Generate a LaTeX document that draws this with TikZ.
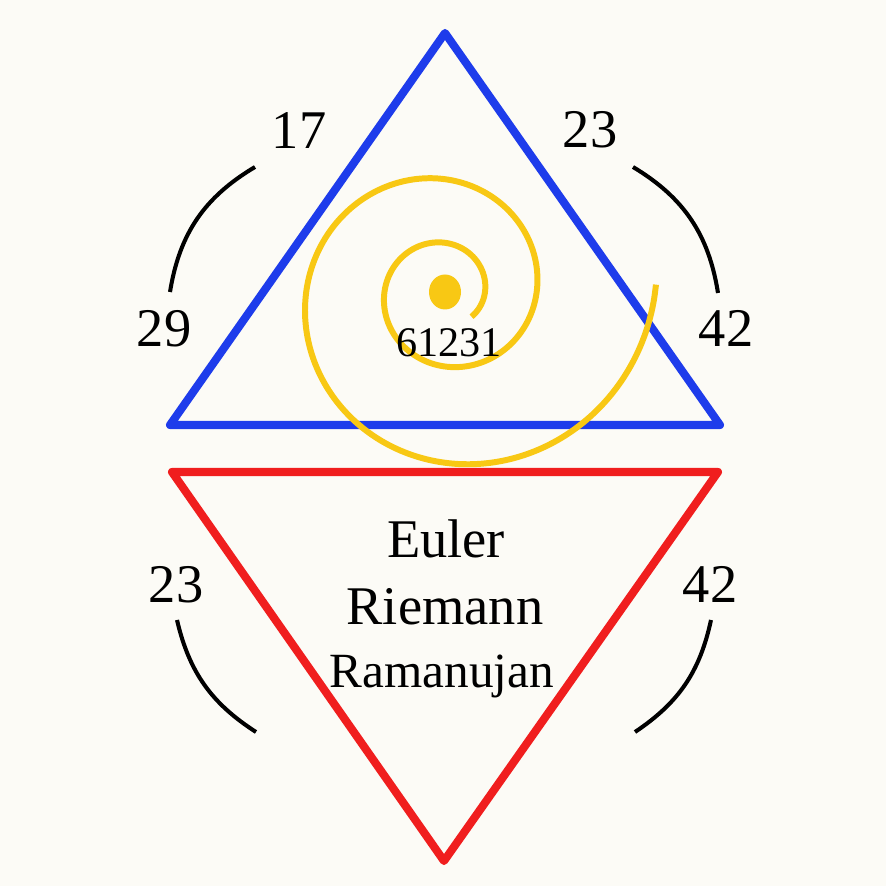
\documentclass[tikz,border=0pt]{standalone}
\usepackage{fontspec}
\setmainfont{Liberation Serif}
\definecolor{paper}{RGB}{252,251,246}
\definecolor{triblue}{RGB}{30,60,235}
\definecolor{trired}{RGB}{240,30,30}
\definecolor{spiralgold}{RGB}{248,200,20}
\tikzset{
  bigtxt/.style={anchor=base, font=\fontsize{15.5}{18}\selectfont},
  arcline/.style={line width=1.15pt, black},
  triline/.style={line width=2.3pt, line join=round}
}
\begin{document}
\begin{tikzpicture}
\fill [paper] (0,0) rectangle (8.86,8.86);
\useasboundingbox (0,0) rectangle (8.86,8.86);
\coordinate (bt) at (4.45,8.53);
\coordinate (bl) at (1.70,4.61);
\coordinate (br) at (7.20,4.61);
\coordinate (rl) at (1.72,4.14);
\coordinate (rr) at (7.18,4.14);
\coordinate (rb) at (4.44,0.25);
\coordinate (eye) at (4.45,5.94);
\draw [triline, triblue] (bt) -- (bl) -- (br) -- cycle;
\draw [triline, trired] (rl) -- (rr) -- (rb) -- cycle;
\draw [line width=1.7pt, spiralgold, shift={(eye)}] plot [domain=-43:722, samples=220, smooth] (\x:{0.4*exp(0.0023*\x)});
\fill [spiralgold] (eye) ellipse (0.16 and 0.175);
\node [anchor=base, font=\fontsize{12}{14}\selectfont] (num) at (4.49,5.29) {61231};
\node [bigtxt] (n17) at (2.99,7.37) {17};
\node [bigtxt] (n23a) at (5.90,7.38) {23};
\node [bigtxt] (n29) at (1.64,5.39) {29};
\node [bigtxt] (n42a) at (7.26,5.39) {42};
\node [bigtxt] (n23b) at (1.76,2.83) {23};
\node [bigtxt] (n42b) at (7.10,2.83) {42};
\node [bigtxt] (euler) at (4.46,3.28) {Euler};
\node [bigtxt] (riemann) at (4.45,2.61) {Riemann};
\node [anchor=base, font=\fontsize{14}{16}\selectfont] (ramanujan) at (4.42,1.98) {Ramanujan};
\coordinate (ula) at (2.55,7.19);
\coordinate (ulb) at (1.70,5.94);
\coordinate (ura) at (6.33,7.19);
\coordinate (urb) at (7.18,5.93);
\coordinate (lla) at (1.77,2.66);
\coordinate (llb) at (2.56,1.54);
\coordinate (lra) at (7.11,2.66);
\coordinate (lrb) at (6.35,1.54);
\draw [arcline] (ula) to [bend right=25] (ulb);
\draw [arcline] (ura) to [bend left=25] (urb);
\draw [arcline] (lla) to [bend right=22] (llb);
\draw [arcline] (lra) to [bend left=22] (lrb);
\end{tikzpicture}
\end{document}
